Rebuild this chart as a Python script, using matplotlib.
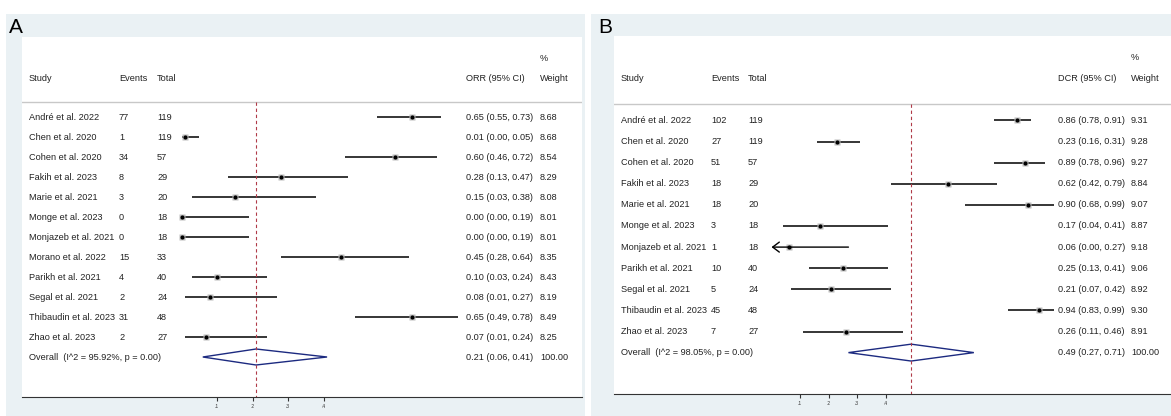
import matplotlib.pyplot as plt
from matplotlib.patches import Rectangle, Polygon
from matplotlib import transforms

plt.rcParams['font.family'] = ['Liberation Sans', 'DejaVu Sans']

# ---- Panel A: objective response rate ----
studies_a = ['André et al. 2022', 'Chen et al. 2020', 'Cohen et al. 2020', 'Fakih et al. 2023',
             'Marie et al. 2021', 'Monge et al. 2023', 'Monjazeb et al. 2021', 'Morano et al. 2022',
             'Parikh et al. 2021', 'Segal et al. 2021', 'Thibaudin et al. 2023', 'Zhao et al. 2023']
events_a = [77, 1, 34, 8, 3, 0, 0, 15, 4, 2, 31, 2]
totals_a = [119, 119, 57, 29, 20, 18, 18, 33, 40, 24, 48, 27]
orr = [0.65, 0.01, 0.60, 0.28, 0.15, 0.00, 0.00, 0.45, 0.10, 0.08, 0.65, 0.07]
orr_lo = [0.55, 0.00, 0.46, 0.13, 0.03, 0.00, 0.00, 0.28, 0.03, 0.01, 0.49, 0.01]
orr_hi = [0.73, 0.05, 0.72, 0.47, 0.38, 0.19, 0.19, 0.64, 0.24, 0.27, 0.78, 0.24]
weights_a = [8.68, 8.68, 8.54, 8.29, 8.08, 8.01, 8.01, 8.35, 8.43, 8.19, 8.49, 8.25]
overall_a = [0.21, 0.06, 0.41]
overall_label_a = 'Overall  (I^2 = 95.92%, p = 0.00)'

# ---- Panel B: disease control rate ----
studies_b = ['André et al. 2022', 'Chen et al. 2020', 'Cohen et al. 2020', 'Fakih et al. 2023',
             'Marie et al. 2021', 'Monge et al. 2023', 'Monjazeb et al. 2021', 'Parikh et al. 2021',
             'Segal et al. 2021', 'Thibaudin et al. 2023', 'Zhao et al. 2023']
events_b = [102, 27, 51, 18, 18, 3, 1, 10, 5, 45, 7]
totals_b = [119, 119, 57, 29, 20, 18, 18, 40, 24, 48, 27]
dcr = [0.86, 0.23, 0.89, 0.62, 0.90, 0.17, 0.06, 0.25, 0.21, 0.94, 0.26]
dcr_lo = [0.78, 0.16, 0.78, 0.42, 0.68, 0.04, 0.00, 0.13, 0.07, 0.83, 0.11]
dcr_hi = [0.91, 0.31, 0.96, 0.79, 0.99, 0.41, 0.27, 0.41, 0.42, 0.99, 0.46]
weights_b = [9.31, 9.28, 9.27, 8.84, 9.07, 8.87, 9.18, 9.06, 8.92, 9.30, 8.91]
overall_b = [0.49, 0.27, 0.71]
overall_label_b = 'Overall  (I^2 = 98.05%, p = 0.00)'
arrow_b = ['Monjazeb et al. 2021']

tick_vals = [0.1, 0.2, 0.3, 0.4]
tick_labels = ['.1', '.2', '.3', '.4']

W, H = 1171, 416
BG = '#eaf1f4'
TXT = '#222222'
FS = 6.6

fig = plt.figure(figsize=(W / 100, H / 100), dpi=100)


def fig_box(x0, y0, x1, y1):
    return [x0 / W, 1 - y1 / H, (x1 - x0) / W, (y1 - y0) / H]


def draw_panel(box, zero_px, unit_px, row0_px, step_px, cols, measure,
               studies, events, totals, est, lo, hi, weights, overall, overall_label,
               arrows=()):
    x0, y0, x1, y1 = box
    ax = fig.add_axes(fig_box(*box))
    ax.set_facecolor('white')
    ax.set_xlim((x0 - zero_px) / unit_px, (x1 - zero_px) / unit_px)
    ax.set_ylim((y1 - row0_px) / step_px, (y0 - row0_px) / step_px)
    for s in ['top', 'left', 'right']:
        ax.spines[s].set_visible(False)
    ax.spines['bottom'].set_color('#333333')
    ax.set_yticks([])
    ax.set_xticks(tick_vals)
    ax.set_xticklabels(tick_labels)
    ax.tick_params(axis='x', direction='out', length=3, width=0.8, labelsize=3.5, pad=2,
                   colors='#333333')

    tr = transforms.blended_transform_factory(ax.transAxes, ax.transData)

    def fx(px):
        return (px - x0) / (x1 - x0)

    hdr = (cols['hdr_px'] - row0_px) / step_px
    lab = (cols['label_px'] - row0_px) / step_px
    pct = (cols['pct_px'] - row0_px) / step_px

    # header
    for key, txt in [('study', 'Study'), ('events', 'Events'), ('total', 'Total'),
                     ('ci', measure + ' (95% CI)'), ('weight', 'Weight')]:
        ax.text(fx(cols[key]), lab, txt, transform=tr, fontsize=FS, color=TXT, va='center')
    ax.text(fx(cols['weight']), pct, '%', transform=tr, fontsize=FS, color=TXT, va='center')
    ax.axhline(hdr, color='#c8c8c8', lw=1)

    n = len(studies)
    for i in range(n):
        ax.text(fx(cols['study']), i, studies[i], transform=tr, fontsize=FS, color=TXT, va='center')
        ax.text(fx(cols['events']), i, str(events[i]), transform=tr, fontsize=FS, color=TXT, va='center')
        ax.text(fx(cols['total']), i, str(totals[i]), transform=tr, fontsize=FS, color=TXT, va='center')
        ax.text(fx(cols['ci']), i, '%.2f (%.2f, %.2f)' % (est[i], lo[i], hi[i]), transform=tr,
                fontsize=FS, color=TXT, va='center')
        ax.text(fx(cols['weight']), i, '%.2f' % weights[i], transform=tr, fontsize=FS,
                color=TXT, va='center')
        if studies[i] in arrows:
            ax.annotate('', xy=(lo[i], i), xytext=(hi[i], i),
                        arrowprops=dict(arrowstyle='->,head_length=0.4,head_width=0.3',
                                        lw=1.0, color='black', mutation_scale=12,
                                        shrinkA=0, shrinkB=0))
        else:
            ax.plot([lo[i], hi[i]], [i, i], color='black', lw=1.1, solid_capstyle='butt')
        ax.plot(est[i], i, 's', ms=4.2, color='#bdbdbd', mec='none')
        ax.plot(est[i], i, 'o', ms=3, color='black', mec='none')

    # overall
    ax.text(fx(cols['study']), n, overall_label, transform=tr, fontsize=FS, color=TXT, va='center')
    ax.text(fx(cols['ci']), n, '%.2f (%.2f, %.2f)' % tuple(overall), transform=tr,
            fontsize=FS, color=TXT, va='center')
    ax.text(fx(cols['weight']), n, '100.00', transform=tr, fontsize=FS, color=TXT, va='center')
    m, l, h = overall
    ax.add_patch(Polygon([(l, n), (m, n - 0.4), (h, n), (m, n + 0.4)], closed=True,
                         fill=False, edgecolor='#1c2a80', lw=1))
    ax.vlines(m, hdr, ax.get_ylim()[0], colors='#b03a48', linestyles=(0, (3, 2.5)), lw=0.8)
    return ax


# light backgrounds behind the two panels
fig.add_artist(Rectangle((6 / W, 0), (585 - 6) / W, (H - 14) / H, transform=fig.transFigure,
                         facecolor=BG, edgecolor='none', zorder=0))
fig.add_artist(Rectangle((591 / W, 0), (W - 591) / W, (H - 14) / H, transform=fig.transFigure,
                         facecolor=BG, edgecolor='none', zorder=0))

cols_a = dict(study=29, events=119, total=157, ci=466, weight=540,
              hdr_px=102, label_px=78, pct_px=58)
draw_panel((22, 37, 582, 397), 181.5, 355, 117, 20, cols_a, 'ORR',
           studies_a, events_a, totals_a, orr, orr_lo, orr_hi, weights_a,
           overall_a, overall_label_a)

cols_b = dict(study=621, events=711, total=748, ci=1058, weight=1131,
              hdr_px=104, label_px=79, pct_px=58)
draw_panel((614, 36, 1171, 394), 771.5, 285, 120.5, 21.1, cols_b, 'DCR',
           studies_b, events_b, totals_b, dcr, dcr_lo, dcr_hi, weights_b,
           overall_b, overall_label_b, arrows=arrow_b)

fig.text(9 / W, 1 - 33 / H, 'A', fontsize=15, va='baseline', ha='left', color='black')
fig.text(598 / W, 1 - 33 / H, 'B', fontsize=15, va='baseline', ha='left', color='black')

fig.savefig('out.png', dpi=100)
